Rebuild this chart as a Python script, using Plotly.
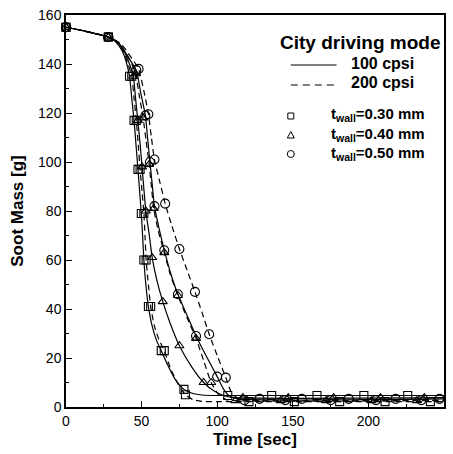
import plotly.graph_objects as go

# ---------------- data ----------------
# Curves (lines): 100 cpsi = solid, 200 cpsi = dashed
s100_t = [0, 14, 28, 33, 37, 40, 42, 43.5, 45, 46.3, 47.6, 48.7, 49.8, 50.7, 51.5, 52.8, 54.5, 57, 60, 63, 67, 72, 78, 84, 90, 100, 250]
s100_m = [155, 153.2, 151, 149, 145.5, 140.5, 135, 126, 117, 107, 97, 88, 79, 69.5, 60, 50, 41, 33, 27, 23, 17.5, 11.5, 7.2, 5.5, 4.9, 4.7, 4.7]

s200_t = [0, 14, 28, 34, 38, 41, 43.5, 45, 46.5, 47.8, 49, 50.3, 51.5, 52.3, 53, 54.5, 56, 58.5, 61.5, 65, 69, 74, 79, 84, 90, 100, 250]
s200_m = [155, 153.2, 151, 148.8, 145, 140, 135, 126, 117, 107, 97, 88, 79, 69.5, 60, 50, 41, 33, 27.5, 23, 16, 9.5, 5, 3, 2.3, 2.2, 2.2]

t100_t = [0, 14, 28, 34, 38.5, 42, 44.5, 46, 47.5, 49, 50.3, 51.5, 52.8, 55, 57, 60, 64, 69, 75, 83, 91, 98, 105, 112, 250]
t100_m = [155, 153.2, 151, 148.8, 145, 140, 135, 126, 117, 107.5, 98, 89, 80, 70.5, 61, 52, 43, 34, 25, 16.5, 10, 6.5, 4.5, 3.8, 3.8]

t200_t = [0, 14, 28, 35, 40, 43.5, 46, 48.5, 51, 53, 55, 56.5, 58, 61, 65, 69, 74, 80, 86, 91, 96, 101, 106, 112, 250]
t200_m = [155, 153.2, 151, 148.5, 144, 140, 136, 127, 118, 108.5, 99, 90, 81, 72, 63, 54, 45.5, 36.5, 28, 19, 10, 5, 3, 2.6, 2.6]

c100_t = [0, 14, 28, 35, 40, 44, 46.5, 49.5, 52.5, 54, 55.5, 57, 58.5, 61.5, 65, 69, 74, 80, 86, 93, 100, 104, 108, 114, 250]
c100_m = [155, 153.2, 151, 148.5, 144, 140, 137.5, 128, 119, 109.5, 100, 91, 82, 73, 64, 55, 46, 37.5, 29, 20.5, 12.4, 7.5, 4.5, 3.3, 3.3]

c200_t = [0, 14, 28, 36, 41, 45, 48, 51.5, 54.5, 56.5, 58.5, 62, 65.6, 70, 75, 80, 85.3, 90, 94.7, 100, 105.7, 109, 113, 120, 250]
c200_m = [155, 153.2, 151, 148.5, 144.5, 141, 138, 129, 119.5, 110, 101, 92, 83, 74, 64.5, 56, 47, 38.5, 29.7, 21, 12, 6.5, 3.8, 2.8, 2.8]

# Symbols placed along each curve
s100_mk_t = [0, 28, 42, 45, 47.6, 49.8, 51.5, 54.5, 63, 78, 107, 136, 166, 197, 226]
s100_mk_m = [155, 151, 135, 117, 97, 79, 60, 41, 23, 7.2, 4.7, 4.7, 4.7, 4.7, 4.7]
s200_mk_t = [0, 28, 43.5, 46.5, 49, 51.5, 53, 56, 65, 79, 121, 151, 181, 211, 241]
s200_mk_m = [155, 151, 135, 117, 97, 79, 60, 41, 23, 5, 2.2, 2.2, 2.2, 2.2, 2.2]
t100_mk_t = [0, 28, 44.5, 47.5, 50.3, 52.8, 57, 64, 75, 91, 117, 147, 177, 208, 237]
t100_mk_m = [155, 151, 135, 117, 98, 80, 61, 43, 25, 10, 3.8, 3.8, 3.8, 3.8, 3.8]
t200_mk_t = [0, 28, 46, 51, 55, 58, 65, 74, 86, 96, 112, 142, 172, 202, 232]
t200_mk_m = [155, 151, 136, 118, 99, 81, 63, 45.5, 28, 10, 2.6, 2.6, 2.6, 2.6, 2.6]
c100_mk_t = [0, 28, 46.5, 52.5, 55.5, 58.5, 65, 74, 86, 100, 128, 156, 187, 218, 247]
c100_mk_m = [155, 151, 137.5, 119, 100, 82, 64, 46, 29, 12.4, 3.3, 3.3, 3.3, 3.3, 3.3]
c200_mk_t = [0, 28, 48, 54.5, 58.5, 65.6, 75, 85.3, 94.7, 105.7, 118, 145, 175, 205, 235]
c200_mk_m = [155, 151, 138, 119.5, 101, 83, 64.5, 47, 29.7, 12, 2.8, 2.8, 2.8, 2.8, 2.8]

x_ticks = [0, 50, 100, 150, 200, 250]
y_ticks = [0, 20, 40, 60, 80, 100, 120, 140, 160]

legend_title = "City driving mode"
cpsi_labels = ["100 cpsi", "200 cpsi"]
wall_labels = ["t<sub>wall</sub>=0.30 mm", "t<sub>wall</sub>=0.40 mm", "t<sub>wall</sub>=0.50 mm"]

# ---------------- figure ----------------
FONT = "Liberation Sans, Arial, sans-serif"
fig = go.Figure()

curves = [
    (s100_t, s100_m, "solid"), (s200_t, s200_m, "dash"),
    (t100_t, t100_m, "solid"), (t200_t, t200_m, "dash"),
    (c100_t, c100_m, "solid"), (c200_t, c200_m, "dash"),
]
for t, m, d in curves:
    fig.add_trace(go.Scatter(
        x=t, y=m, mode="lines",
        line=dict(color="black", width=1.2, dash="6px,4px" if d == "dash" else "solid",
                  shape="spline", smoothing=0.6),
        showlegend=False, hoverinfo="skip", cliponaxis=False))

marks = [
    (s100_mk_t, s100_mk_m, "square-open"), (s200_mk_t, s200_mk_m, "square-open"),
    (t100_mk_t, t100_mk_m, "triangle-up-open"), (t200_mk_t, t200_mk_m, "triangle-up-open"),
    (c100_mk_t, c100_mk_m, "circle-open"), (c200_mk_t, c200_mk_m, "circle-open"),
]
for t, m, s in marks:
    fig.add_trace(go.Scatter(
        x=t, y=m, mode="markers",
        marker=dict(symbol=s, size=8 if s != "circle-open" else 9, color="black",
                    line=dict(width=1.1, color="black")),
        showlegend=False, cliponaxis=False))

# ---------------- custom legend ----------------
def px2x(px):
    return (px - 66) / 380.0

def px2y(py):
    return (407 - py) / 392.0

ann = []
ann.append(dict(text=f"<b>{legend_title}</b>", x=px2x(362), y=px2y(42), xref="paper", yref="paper",
                xanchor="center", yanchor="middle", showarrow=False,
                font=dict(family=FONT, size=19, color="black")))
shapes = []
for i, (lab, dash) in enumerate(zip(cpsi_labels, ["solid", "dash"])):
    py = 65 + 20 * i
    shapes.append(dict(type="line", xref="paper", yref="paper", x0=px2x(292), x1=px2x(338),
                       y0=px2y(py), y1=px2y(py),
                       line=dict(color="black", width=1.2, dash="7px,5px" if dash == "dash" else "solid")))
    ann.append(dict(text=f"<b>{lab}</b>", x=px2x(350), y=px2y(py - 2), xref="paper", yref="paper",
                    xanchor="left", yanchor="middle", showarrow=False,
                    font=dict(family=FONT, size=16, color="black")))

sym_paths = [
    "M -3,-3 L 3,-3 L 3,3 L -3,3 Z",
    "M -3.5,-3 L 3.5,-3 L 0,3.5 Z",
]
for i, lab in enumerate(wall_labels):
    py = 116 + 19 * i
    xa, ya = px2x(292), px2y(py)
    if i == 2:
        shapes.append(dict(type="circle", xref="paper", yref="paper", xsizemode="pixel", ysizemode="pixel",
                           xanchor=xa, yanchor=ya, x0=-3.5, x1=3.5, y0=-3.5, y1=3.5,
                           line=dict(color="black", width=1)))
    else:
        shapes.append(dict(type="path", xref="paper", yref="paper", xsizemode="pixel", ysizemode="pixel",
                           xanchor=xa, yanchor=ya, path=sym_paths[i],
                           line=dict(color="black", width=1)))
    ann.append(dict(text=f"<b>{lab}</b>", x=px2x(330), y=px2y(py - 1), xref="paper", yref="paper",
                    xanchor="left", yanchor="middle", showarrow=False,
                    font=dict(family=FONT, size=15, color="black")))

axis_common = dict(showline=True, mirror=True, linecolor="black", linewidth=1.5,
                   ticks="inside", ticklen=6, tickwidth=1, tickcolor="black",
                   showgrid=False, zeroline=False,
                   tickfont=dict(family=FONT, size=14, color="black"))

fig.update_layout(
    width=453, height=454,
    margin=dict(l=66, r=7, t=15, b=47),
    paper_bgcolor="white", plot_bgcolor="white",
    showlegend=False,
    annotations=ann, shapes=shapes,
    xaxis=dict(range=[0, 250], tickvals=x_ticks, ticktext=[str(v) for v in x_ticks],
               minor=dict(ticks="inside", ticklen=3, dtick=25, tickcolor="black", showgrid=False),
               title=dict(text="<b>Time [sec]</b>", font=dict(family=FONT, size=17, color="black"), standoff=6),
               **axis_common),
    yaxis=dict(range=[0, 160], tickvals=y_ticks, ticktext=[str(v) for v in y_ticks],
               minor=dict(ticks="inside", ticklen=3, dtick=10, tickcolor="black", showgrid=False),
               title=dict(text="<b>Soot Mass [g]</b>", font=dict(family=FONT, size=17, color="black"), standoff=10),
               **axis_common),
)

fig.write_html("out.html")
